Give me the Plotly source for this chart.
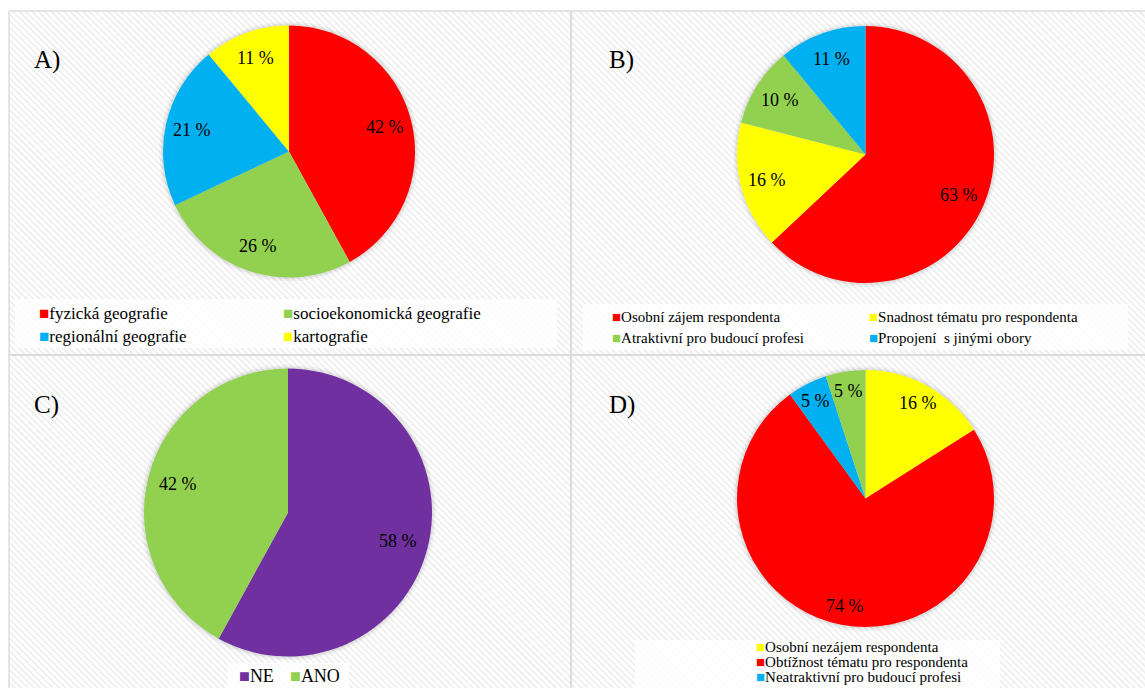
import base64
import math
import plotly.graph_objects as go

W, H = 1145, 688

# ---- data ----
a_labels = ["fyzická geografie", "socioekonomická geografie", "regionální geografie", "kartografie"]
a_values = [42, 26, 21, 11]
a_colors = ["#FF0000", "#92D050", "#00B0F0", "#FFFF00"]

b_labels = ["Osobní zájem respondenta", "Snadnost tématu pro respondenta",
            "Atraktivní pro budoucí profesi", "Propojení  s jinými obory"]
b_values = [63, 16, 10, 11]
b_colors = ["#FF0000", "#FFFF00", "#92D050", "#00B0F0"]

c_labels = ["NE", "ANO"]
c_values = [58, 42]
c_colors = ["#7030A0", "#92D050"]

d_labels = ["Osobní nezájem respondenta", "Obtížnost tématu pro respondenta",
            "Neatraktivní pro budoucí profesi", "Jiný důvod"]
d_values = [16, 74, 5, 5]
d_colors = ["#FFFF00", "#FF0000", "#00B0F0", "#92D050"]

panel_letters = ["A)", "B)", "C)", "D)"]

SERIF = "Liberation Serif"


def px(x):
    return x / W


def py(y):
    return 1 - y / H


def dom(cx, cy, r):
    return dict(x=[px(cx - r), px(cx + r)], y=[py(cy + r), py(cy - r)])


fig = go.Figure()

pies = [
    (a_labels, a_values, a_colors, (289, 151.5, 126), 0.79),
    (b_labels, b_values, b_colors, (865.5, 154.5, 128.5), 0.79),
    (c_labels, c_values, c_colors, (288, 512.5, 144), 0.79),
    (d_labels, d_values, d_colors, (865.5, 498.5, 128.5), 0.85),
]
annotations = []
for labels, values, colors, (cx, cy, r), frac in pies:
    fig.add_trace(go.Pie(
        labels=labels, values=values, sort=False, direction="clockwise", rotation=0,
        marker=dict(colors=colors, line=dict(width=0)),
        textinfo="none",
        domain=dom(cx, cy, r), showlegend=False, hoverinfo="label+value",
    ))
    # data labels placed along each slice's bisector
    total = sum(values)
    cum = 0
    for v in values:
        mid = (cum + v / 2) / total * 2 * math.pi
        cum += v
        x = cx + frac * r * math.sin(mid)
        y = cy - frac * r * math.cos(mid)
        annotations.append(dict(text=f"{v} %", x=px(x), y=py(y), xref="paper", yref="paper",
                                xanchor="center", yanchor="middle", showarrow=False,
                                font=dict(family=SERIF, size=18, color="black")))

# ---- background: diagonal stripes ----
svg = f'''<svg xmlns="http://www.w3.org/2000/svg" width="{W}" height="{H}">
<defs><pattern id="p" patternUnits="userSpaceOnUse" width="4.5" height="4.5" patternTransform="rotate(-45)">
<rect width="4.5" height="4.5" fill="#ffffff"/><rect width="2" height="4.5" fill="#efefef"/></pattern></defs>
<rect x="0" y="0" width="{W}" height="{H}" fill="#ffffff"/>
<rect x="9" y="11" width="{W-9}" height="{H-11}" fill="url(#p)"/>
</svg>'''
src = "data:image/svg+xml;base64," + base64.b64encode(svg.encode()).decode()

shapes = []
# legend boxes
for x0, y0, x1, y1 in [(15, 299, 557, 348), (583, 304, 1128, 350), (228, 663, 349, 688), (635, 640, 1000, 688)]:
    shapes.append(dict(type="rect", xref="paper", yref="paper", x0=px(x0), x1=px(x1), y0=py(y1), y1=py(y0),
                       fillcolor="rgba(255,255,255,0.8)", line=dict(width=0), layer="below"))
# pie glow
for _, _, _, (cx, cy, r), _ in pies:
    for k, a in [(4, 0.04), (2, 0.06)]:
        shapes.append(dict(type="circle", xref="paper", yref="paper",
                           x0=px(cx - r - k), x1=px(cx + r + k), y0=py(cy + r + k), y1=py(cy - r - k),
                           fillcolor=f"rgba(0,0,0,{a})", line=dict(width=0), layer="below"))
# panel lines
line_c = "#dcdcdc"
shapes += [
    dict(type="line", xref="paper", yref="paper", x0=px(9), x1=1, y0=py(11), y1=py(11), line=dict(color=line_c, width=1.5)),
    dict(type="line", xref="paper", yref="paper", x0=px(9), x1=px(9), y0=0, y1=py(11), line=dict(color=line_c, width=1.5)),
    dict(type="line", xref="paper", yref="paper", x0=px(571), x1=px(571), y0=0, y1=py(11), line=dict(color=line_c, width=2)),
    dict(type="line", xref="paper", yref="paper", x0=px(9), x1=1, y0=py(355), y1=py(355), line=dict(color=line_c, width=2)),
]

for letter, (x, y) in zip(panel_letters, [(32, 60), (607, 60), (32, 405), (607, 405)]):
    annotations.append(dict(text=letter, x=px(x), y=py(y), xref="paper", yref="paper",
                            xanchor="left", yanchor="middle", showarrow=False,
                            font=dict(family=SERIF, size=25, color="black")))


def legend_item(label, color, x, y, size):
    annotations.append(dict(
        text=f'<span style="color:{color}">■</span>{label}', x=px(x), y=py(y),
        xref="paper", yref="paper", xanchor="left", yanchor="middle", showarrow=False,
        font=dict(family=SERIF, size=size, color="black")))


# legend A (2 columns)
posA = [(37, 313), (281, 313), (37, 336), (281, 336)]
for lab, col, (x, y) in zip(a_labels, a_colors, posA):
    legend_item(lab, col, x, y, 17)
# legend B
posB = [(610, 317), (867, 317), (610, 338), (867, 338)]
for lab, col, (x, y) in zip(b_labels, b_colors, posB):
    legend_item(lab, col, x, y, 15)
# legend C
posC = [(237, 676), (288, 676)]
for lab, col, (x, y) in zip(c_labels, c_colors, posC):
    legend_item(lab, col, x, y, 18)
# legend D (only first three visible)
posD = [(754, 647), (754, 662), (754, 677)]
for lab, col, (x, y) in zip(d_labels[:3], d_colors[:3], posD):
    legend_item(lab, col, x, y, 15)

fig.update_layout(
    width=W, height=H, margin=dict(l=0, r=0, t=0, b=0),
    paper_bgcolor="white", plot_bgcolor="white",
    images=[dict(source=src, xref="paper", yref="paper", x=0, y=1, sizex=1, sizey=1,
                 sizing="stretch", layer="below", xanchor="left", yanchor="top")],
    shapes=shapes, annotations=annotations,
)

fig.write_html("out.html")
